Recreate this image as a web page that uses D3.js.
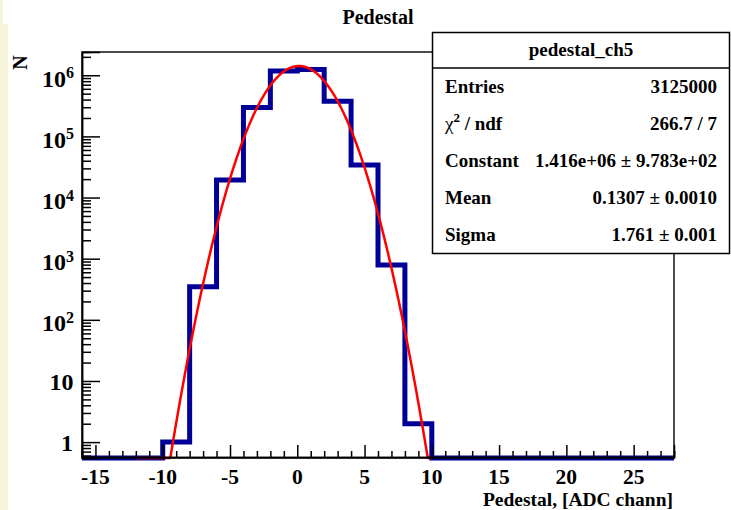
<!DOCTYPE html>
<html><head><meta charset="utf-8">
<script src="https://cdn.jsdelivr.net/npm/d3@7"></script>
<style>
body{margin:0;background:#fff;}
svg{display:block;font-family:"Liberation Serif","Times New Roman",serif;font-weight:bold;}
</style>
</head><body><svg id="c" width="731" height="510"></svg>
<script>
// ---- data ----
const title = "Pedestal";
const xAxisTitle = "Pedestal, [ADC chann]";
const yAxisTitle = "N";
const histName = "pedestal_ch5";
const binLowEdges = [-16,-14,-12,-10,-8,-6,-4,-2,0,2,4,6,8,10,12,14,16,18,20,22,24,26];
const binWidth = 2;
const counts = [0,0,0,1,349,19300,298000,1170000,1240000,377000,34000,790,2,0,0,0,0,0,0,0,0,0];
const xTickValues = [-15,-10,-5,0,5,10,15,20,25];
const yTickExponents = [0,1,2,3,4,5,6];
const statsLabels = ["Entries","χ2 / ndf","Constant","Mean","Sigma"];
const statsValues = ["3125000","266.7 / 7","1.416e+06 ± 9.783e+02","0.1307 ± 0.0010","1.761 ± 0.001"];
const fitConstant = [1.416e6];
const fitMean = [0.1307];
const fitSigma = [1.761];
const fitRange = [-12, 10];
const xDomain = [-16, 28];
const yDomain = [0.55, 2.4e6];

// ---- layout ----
const W = 731, H = 510;
const frame = {l: 82, r: 674, t: 52, b: 458};
const svg = d3.select("#c");

// background beige strip at the left
svg.append("rect").attr("x",0).attr("y",0).attr("width",3).attr("height",24).attr("fill","#f6f4d8");
svg.append("rect").attr("x",0).attr("y",24).attr("width",8).attr("height",H-24).attr("fill","#f6f4d8");

const x = d3.scaleLinear().domain(xDomain).range([frame.l, frame.r]);
const y = d3.scaleLog().domain(yDomain).range([frame.b, frame.t]);
const clampY = v => Math.max(v, yDomain[0]);

// ---- histogram ----
const pts = [];
binLowEdges.forEach((lo, i) => {
  const v = clampY(counts[i]);
  pts.push([lo, v]);
  pts.push([lo + binWidth, v]);
});
const line = d3.line().x(d => x(d[0])).y(d => y(d[1]));
svg.append("path").attr("d", line(pts))
  .attr("fill","none").attr("stroke","#000099").attr("stroke-width",5)
  .attr("stroke-linejoin","miter");

// ---- fit curve (Gaussian with the fitted parameters shown in the stats box) ----
const fitPts = d3.range(0, 401).map(i => {
  const xv = fitRange[0] + (fitRange[1]-fitRange[0]) * i / 400;
  const g = fitConstant[0] * Math.exp(-0.5 * Math.pow((xv - fitMean[0]) / fitSigma[0], 2));
  return [xv, clampY(g)];
});
svg.append("path").attr("d", line(fitPts))
  .attr("fill","none").attr("stroke","#ff0000").attr("stroke-width",2.5);

// ---- frame ----
svg.append("rect").attr("x",frame.l).attr("y",frame.t)
  .attr("width",frame.r-frame.l).attr("height",frame.b-frame.t)
  .attr("fill","none").attr("stroke","#111").attr("stroke-width",1.5);

// ---- x axis ticks ----
const xMinor = d3.range(xDomain[0], xDomain[1]+1).filter(v => !xTickValues.includes(v));
const gx = svg.append("g").attr("transform",`translate(0,${frame.b-1})`);
gx.call(d3.axisBottom(x).tickValues(xTickValues).tickSize(-12).tickFormat(""));
gx.append("g").call(d3.axisBottom(x).tickValues(xMinor).tickSize(-6).tickFormat(""));
gx.selectAll(".domain").attr("stroke","#000").attr("stroke-width",1.5);
gx.selectAll(".tick line").attr("stroke","#000").attr("stroke-width",1.5);

svg.append("g").selectAll("text").data(xTickValues).join("text")
  .attr("x", d => x(d)).attr("y", 484)
  .attr("text-anchor","middle").attr("font-size",21.5)
  .text(d => String(d));

// ---- y axis ticks ----
const yMajor = yTickExponents.map(e => Math.pow(10, e));
const yMinor = [];
for (let e = -1; e <= 6; e++) for (let k = 2; k <= 9; k++) {
  const v = k * Math.pow(10, e);
  if (v >= yDomain[0] && v <= yDomain[1]) yMinor.push(v);
}
const gy = svg.append("g").attr("transform",`translate(${frame.l},0)`);
gy.call(d3.axisLeft(y).tickValues(yMajor).tickSize(-18).tickFormat(""));
gy.append("g").call(d3.axisLeft(y).tickValues(yMinor).tickSize(-9).tickFormat(""));
gy.selectAll(".domain").attr("stroke","#000").attr("stroke-width",1.5);
gy.selectAll(".tick line").attr("stroke","#000").attr("stroke-width",1.5);

const yl = svg.append("g").selectAll("text").data(yTickExponents).join("text")
  .attr("text-anchor","end").attr("font-size",24);
yl.each(function(e) {
  const t = d3.select(this);
  const yy = y(Math.pow(10, e));
  if (e === 0) { t.attr("x",73).attr("y",yy+9).text("1"); }
  else if (e === 1) { t.attr("x",73.5).attr("y",yy+9).text("10"); }
  else {
    t.attr("x",74).attr("y",yy+11.5);
    t.append("tspan").text("10");
    t.append("tspan").attr("font-size",16).attr("dy",-8.5).text(String(e));
  }
});

// ---- titles ----
svg.append("text").attr("x",378).attr("y",24).attr("text-anchor","middle")
  .attr("font-size",20).text(title);
svg.append("text").attr("x",673).attr("y",506).attr("text-anchor","end")
  .attr("font-size",19.5).text(xAxisTitle);
svg.append("text").attr("transform","translate(27,62.5) rotate(-90)")
  .attr("text-anchor","middle").attr("font-size",20).text(yAxisTitle);

// ---- stats box ----
const box = {x: 432.5, y: 32.5, w: 297, h: 221, head: 35.5};
svg.append("rect").attr("x",box.x).attr("y",box.y).attr("width",box.w).attr("height",box.h)
  .attr("fill","#fff").attr("stroke","#000").attr("stroke-width",1.5);
svg.append("line").attr("x1",box.x).attr("x2",box.x+box.w)
  .attr("y1",box.y+box.head).attr("y2",box.y+box.head)
  .attr("stroke","#000").attr("stroke-width",1.5);
svg.append("text").attr("x",box.x+box.w/2).attr("y",56).attr("text-anchor","middle")
  .attr("font-size",19).text(histName);
const rowH = (box.h - box.head) / statsLabels.length;
statsLabels.forEach((lab, i) => {
  const by = box.y + box.head + rowH * (i + 0.5) + 6.5;
  const t = svg.append("text").attr("x",445).attr("y",by).attr("font-size",19);
  if (lab.startsWith("χ2")) {
    t.append("tspan").attr("font-weight","normal").text("χ");
    t.append("tspan").attr("font-size",13).attr("dy",-8).text("2");
    t.append("tspan").attr("dy",8).text(lab.slice(2));
  } else {
    t.text(lab);
  }
  svg.append("text").attr("x",717).attr("y",by).attr("text-anchor","end")
    .attr("font-size",19).text(statsValues[i]);
});
</script>
</body></html>
